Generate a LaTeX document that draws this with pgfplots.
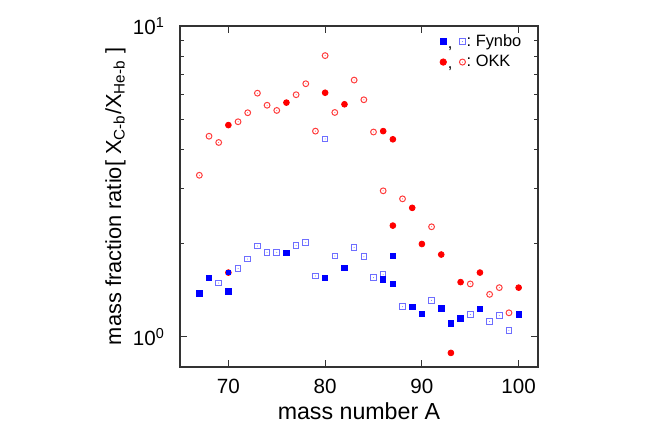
\documentclass[border=0pt]{standalone}
\usepackage{fontspec}
\setmainfont{Liberation Sans}
\usepackage{pgfplots}
\pgfplotsset{compat=1.18}

\definecolor{okk}{RGB}{255,0,0}
\definecolor{okklight}{RGB}{255,60,60}
\definecolor{fyn}{RGB}{0,0,255}
\definecolor{fynlight}{RGB}{110,110,255}
\definecolor{frame}{RGB}{51,51,51}

% open marks with a small dot in the middle
\pgfdeclareplotmark{osq}{%
  \pgfpathrectangle{\pgfqpoint{-\pgfplotmarksize}{-\pgfplotmarksize}}{\pgfqpoint{2\pgfplotmarksize}{2\pgfplotmarksize}}%
  \pgfusepathqstroke
  \pgfpathcircle{\pgfpointorigin}{0.25pt}\pgfusepathqfill}
\pgfdeclareplotmark{ocirc}{%
  \pgfpathcircle{\pgfpointorigin}{\pgfplotmarksize}\pgfusepathqstroke
  \pgfpathcircle{\pgfpointorigin}{0.25pt}\pgfusepathqfill}

\newcommand\legfont{\fontsize{8.2}{9}\selectfont}

\begin{document}
\begin{tikzpicture}
\begin{axis}[
    name=ax,
    scale only axis,
    width=179pt, height=170.5pt,
    xmin=65, xmax=102,
    ymode=log, ymin=0.8, ymax=10,
    xtick={70,80,90,100},
    ytick={1,10},
    yticklabels={10\textsuperscript{0},10\textsuperscript{1}},
    tick align=inside,
    major tick length=3.5pt, minor tick length=2pt,
    axis line style={frame, line width=0.6pt},
    tick style={frame, line width=0.5pt},
    ticklabel style={font=\fontsize{10.3}{12}\selectfont},
    /pgf/number format/assume math mode=true,
    xticklabel style={yshift=-2.5pt},
    yticklabel style={xshift=-4pt},
    xlabel={mass number A},
    ylabel={mass fraction ratio[ X\textsubscript{C-b}/X\textsubscript{He-b} ]},
    xlabel style={font=\fontsize{11.6}{13}\selectfont,
        at={(axis description cs:0.5,-0.103)}, anchor=north, inner sep=0pt},
    ylabel style={font=\fontsize{10.9}{13}\selectfont,
        at={(axis description cs:-0.151,0.5)}, anchor=south, inner sep=0pt},
    reverse legend,
    legend cell align=left,
    legend style={draw=none, fill=none, inner sep=0pt,
        at={(rel axis cs:0.958,0.981)}, anchor=north east,
        font=\legfont, row sep=1pt,
        nodes={inner sep=0.6pt, text height=6pt, text depth=1.5pt}},
]
% OKK, open
\addplot[only marks, mark=ocirc, mark size=1.45pt, okklight, line width=0.5pt, forget plot] table {
67 3.31
68 4.42
69 4.22
71 4.92
72 5.26
73 6.08
74 5.56
75 5.35
77 6.01
78 6.52
79 4.59
80 8.03
81 5.27
83 6.70
84 5.79
85 4.56
86 2.95
88 2.78
91 2.26
95 1.48
97 1.37
98 1.44
99 1.195
};
% OKK, filled
\addplot[only marks, mark=*, mark size=1.45pt, okk,
    legend image code/.code={
        \draw[okk, mark=*, mark size=1.6pt] plot coordinates {(0pt,0pt)};
        \node[anchor=base, inner sep=0pt, text=black, font=\legfont] at (3.4pt,-3.4pt) {,};
        \draw[okklight, line width=0.5pt, mark=ocirc, mark size=1.5pt] plot coordinates {(9.6pt,0pt)};
    }] table {
70 4.80
70 1.61
76 5.67
80 6.10
82 5.60
86 4.59
87 4.32
87 2.28
89 2.60
90 1.99
92 1.84
93 0.888
94 1.50
96 1.61
100 1.44
};
\addlegendentry{:\ OKK}
% Fynbo, open
\addplot[only marks, mark=osq, mark size=1.4pt, fynlight, line width=0.5pt, forget plot] table {
69 1.49
71 1.66
72 1.78
73 1.96
74 1.87
75 1.87
77 1.97
78 2.01
79 1.57
80 4.33
81 1.82
83 1.94
84 1.81
85 1.55
86 1.59
88 1.25
91 1.31
95 1.18
97 1.12
98 1.17
99 1.05
};
% Fynbo, filled (point inside the OKK circle at A=70)
\addplot[only marks, mark=square*, mark size=0.9pt, fyn, forget plot] table {
70 1.61
};
% Fynbo, filled
\addplot[only marks, mark=square*, mark size=1.35pt, fyn,
    legend image code/.code={
        \draw[fyn, mark=square*, mark size=1.5pt] plot coordinates {(0pt,0pt)};
        \node[anchor=base, inner sep=0pt, text=black, font=\legfont] at (3.4pt,-3.4pt) {,};
        \draw[fynlight, line width=0.5pt, mark=osq, mark size=1.45pt] plot coordinates {(9.6pt,0pt)};
    }] table {
67 1.38
68 1.55
70 1.40
76 1.86
80 1.55
82 1.67
86 1.53
87 1.82
87 1.48
89 1.247
90 1.186
92 1.235
93 1.105
94 1.147
96 1.23
100 1.18
};
\addlegendentry{:\ Fynbo}
\end{axis}
\pgfresetboundingbox
\path[use as bounding box] (ax.south west) ++(-90pt,-34.5pt) rectangle ([xshift=58pt,yshift=13pt]ax.north east);
\end{tikzpicture}
\end{document}
